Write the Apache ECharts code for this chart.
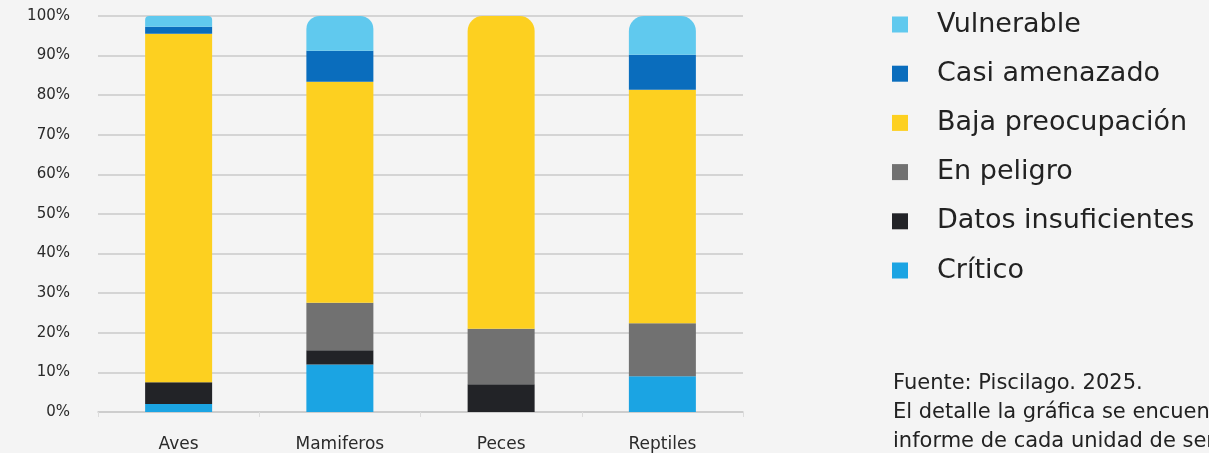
<!DOCTYPE html>
<html>
<head>
<meta charset="utf-8">
<script src="https://cdn.jsdelivr.net/npm/echarts@6/dist/echarts.min.js"></script>
<style>
  html, body { margin: 0; padding: 0; background: #f4f4f4; }
  #chart { width: 1209px; height: 453px; }
</style>
</head>
<body>
<div id="chart"></div>
<script>
// Distribución por categoría de amenaza (%)
const categories = ['Aves', 'Mamiferos', 'Peces', 'Reptiles'];
const yTicks = [0, 10, 20, 30, 40, 50, 60, 70, 80, 90, 100];

const critico = [2, 12, 0, 9];
const datosInsuficientes = [5.5, 3.6, 7, 0];
const enPeligro = [0, 12, 14, 13.4];
const bajaPreocupacion = [88, 55.8, 79, 59];
const casiAmenazado = [1.8, 7.8, 0, 8.8];
const vulnerable = [2.7, 8.8, 0, 9.8];

const seriesDefs = [
  { name: 'Crítico', data: critico, color: '#1ba4e3' },
  { name: 'Datos insuficientes', data: datosInsuficientes, color: '#222327' },
  { name: 'En peligro', data: enPeligro, color: '#717171' },
  { name: 'Baja preocupación', data: bajaPreocupacion, color: '#fdd020' },
  { name: 'Casi amenazado', data: casiAmenazado, color: '#0a6dbd' },
  { name: 'Vulnerable', data: vulnerable, color: '#60c9ee' }
];

// top segment of each stack gets rounded upper corners
const topIndex = categories.map((_, c) => {
  let idx = 0;
  seriesDefs.forEach((s, i) => { if (s.data[c] > 0) idx = i; });
  return idx;
});

const FONT = '"DejaVu Sans", "Noto Sans", sans-serif';

const series = seriesDefs.map((s, i) => ({
  name: s.name,
  type: 'bar',
  stack: 'total',
  barWidth: 67,
  itemStyle: { color: s.color },
  emphasis: { disabled: true },
  data: s.data.map((v, c) => {
    if (topIndex[c] === i) {
      const r = Math.min(15, Math.round(v * 1.5));
      return { value: v, itemStyle: { borderRadius: [r, r, 0, 0] } };
    }
    return v;
  })
}));

const chart = echarts.init(document.getElementById('chart'), null, { renderer: 'canvas' });
chart.setOption({
  backgroundColor: '#f4f4f4',
  animation: false,
  grid: { left: 98, right: 466, top: 16, bottom: 40.5, containLabel: false },
  legend: {
    orient: 'vertical',
    left: 892,
    top: 11,
    padding: 0,
    itemWidth: 16,
    itemHeight: 16,
    itemGap: 22.2,
    icon: 'rect',
    data: ['Vulnerable', 'Casi amenazado', 'Baja preocupación', 'En peligro', 'Datos insuficientes', 'Crítico'],
    textStyle: {
      fontFamily: FONT,
      fontSize: 27,
      lineHeight: 27,
      color: '#222',
      padding: [0, 0, 0, 24]
    }
  },
  xAxis: {
    type: 'category',
    data: categories,
    axisLine: { lineStyle: { color: '#cacaca', width: 1.5 } },
    axisTick: { show: true, length: 5, lineStyle: { color: '#dcdcdc' } },
    axisLabel: { fontFamily: FONT, fontSize: 17, color: '#2a2a2a', margin: 24 }
  },
  yAxis: {
    type: 'value',
    min: yTicks[0],
    max: yTicks[yTicks.length - 1],
    interval: yTicks[1] - yTicks[0],
    axisLine: { show: false },
    axisTick: { show: false },
    splitLine: { lineStyle: { color: '#cacaca', width: 1.5 } },
    axisLabel: {
      fontFamily: FONT, fontSize: 15, color: '#2a2a2a', margin: 28,
      formatter: v => v + '%'
    }
  },
  graphic: [{
    type: 'text',
    left: 893,
    top: 369,
    style: {
      text: 'Fuente: Piscilago. 2025.\nEl detalle la gráfica se encuentra en el\ninforme de cada unidad de servicio.',
      font: '21px ' + FONT,
      lineHeight: 29,
      fill: '#222'
    }
  }],
  series: series
});
</script>
</body>
</html>
